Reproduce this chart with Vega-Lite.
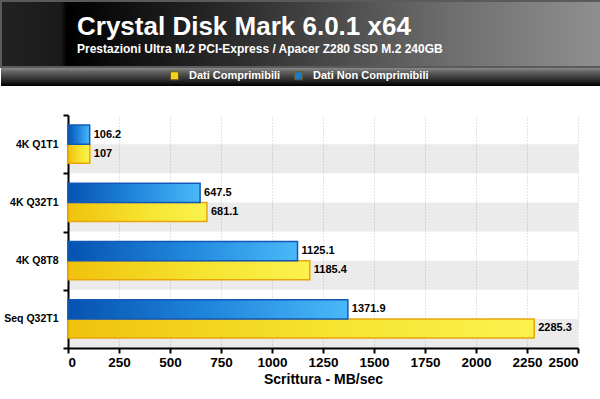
{
  "$schema": "https://vega.github.io/schema/vega-lite/v6.json",
  "padding": 0,
  "background": "white",
  "config": {
    "font": "Liberation Sans",
    "view": {"stroke": null}
  },
  "spacing": 0,
  "vconcat": [
    {
      "width": 600,
      "height": 66,
      "view": {
        "fill": {"gradient": "linear", "x1": 0, "y1": 0, "x2": 1, "y2": 0,
          "stops": [
            {"offset": 0, "color": "#222222"},
            {"offset": 0.1, "color": "#1a1a1a"},
            {"offset": 0.11, "color": "#000000"},
            {"offset": 0.4, "color": "#2e2e2e"},
            {"offset": 0.75, "color": "#6e6e6e"},
            {"offset": 1, "color": "#8f8f8f"}
          ]},
        "stroke": "#5a5a5a",
        "strokeWidth": 2
      },
      "title": {
        "text": "Crystal Disk Mark 6.0.1 x64",
        "subtitle": "Prestazioni Ultra M.2 PCI-Express / Apacer Z280 SSD M.2 240GB",
        "anchor": "start",
        "orient": "top",
        "offset": -54,
        "dx": 76,
        "color": "white",
        "subtitleColor": "white",
        "fontSize": 26,
        "fontWeight": "bold",
        "subtitleFontSize": 12,
        "subtitleFontWeight": "bold",
        "subtitlePadding": 4,
        "font": "Liberation Sans",
        "subtitleFont": "Liberation Sans"
      },
      "data": {"values": [{"d": 1}]},
      "mark": {"type": "point", "opacity": 0},
      "encoding": {}
    },
    {
      "width": 600,
      "height": 42,
      "view": {
        "fill": {"gradient": "linear", "x1": 0, "y1": 0, "x2": 0, "y2": 1,
          "stops": [
            {"offset": 0, "color": "#8a8a8a"},
            {"offset": 0.08, "color": "#666666"},
            {"offset": 0.3, "color": "#262626"},
            {"offset": 0.425, "color": "#000000"},
            {"offset": 0.43, "color": "#ffffff"},
            {"offset": 1, "color": "#ffffff"}
          ]},
        "stroke": null
      },
      "data": {"values": [{"d": 1}]},
      "mark": {"type": "point", "opacity": 0},
      "encoding": {}
    },
    {
      "width": 600,
      "height": 233,
      "data": {
        "values": [
          {"cat": "4K Q1T1", "series": "Dati Non Comprimibili", "value": 106.2},
          {"cat": "4K Q1T1", "series": "Dati Comprimibili", "value": 107},
          {"cat": "4K Q32T1", "series": "Dati Non Comprimibili", "value": 647.5},
          {"cat": "4K Q32T1", "series": "Dati Comprimibili", "value": 681.1},
          {"cat": "4K Q8T8", "series": "Dati Non Comprimibili", "value": 1125.1},
          {"cat": "4K Q8T8", "series": "Dati Comprimibili", "value": 1185.4},
          {"cat": "Seq Q32T1", "series": "Dati Non Comprimibili", "value": 1371.9},
          {"cat": "Seq Q32T1", "series": "Dati Comprimibili", "value": 2285.3}
        ]
      },
      "encoding": {
        "y": {
          "field": "cat",
          "type": "nominal",
          "sort": ["4K Q1T1", "4K Q32T1", "4K Q8T8", "Seq Q32T1"],
          "scale": {"paddingInner": 0, "paddingOuter": 0},
          "axis": {
            "title": null,
            "offset": -67,
            "tickBand": "extent",
            "domainColor": "black",
            "domainWidth": 2,
            "tickColor": "black",
            "tickWidth": 2,
            "tickSize": 5,
            "labelPadding": 5,
            "labelFontSize": 10.5,
            "labelFontWeight": "bold",
            "labelColor": "black"
          }
        }
      },
      "layer": [
        {
          "transform": [{"filter": "datum.series == 'Dati Comprimibili'"}],
          "mark": {"type": "bar", "fill": "black", "fillOpacity": 0.078, "stroke": null},
          "encoding": {
            "x": {"datum": 0, "type": "quantitative", "title": "Scrittura - MB/sec"},
            "x2": {"datum": 2500},
            "yOffset": {
              "field": "series",
              "type": "nominal",
              "scale": {"domain": ["Dati Non Comprimibili", "Dati Comprimibili"], "paddingInner": 0, "paddingOuter": 0}
            }
          }
        },
        {
          "layer": [
            {
              "transform": [{"filter": "datum.series == 'Dati Comprimibili'"}],
              "mark": {
                "type": "bar",
                "stroke": "#e9a50a",
                "strokeWidth": 1.5,
                "fill": {"gradient": "linear", "x1": 0, "y1": 0, "x2": 1, "y2": 0,
                  "stops": [{"offset": 0, "color": "#efc20c"}, {"offset": 0.6, "color": "#f6e633"}, {"offset": 1, "color": "#fbf24e"}]}
              },
              "encoding": {
                "x": {
                  "field": "value",
                  "type": "quantitative",
                  "title": "Scrittura - MB/sec",
                  "scale": {"domain": [0, 2500], "nice": false, "range": [67, 577]},
                  "axis": {
                    "values": [0, 250, 500, 750, 1000, 1250, 1500, 1750, 2000, 2250, 2500],
                    "format": "d",
                    "domainColor": "black",
                    "domainWidth": 2,
                    "tickColor": "black",
                    "tickWidth": 2,
                    "tickSize": 5,
                    "labelPadding": 2,
                    "labelFontSize": 13.5,
                    "labelFontWeight": "bold",
                    "labelColor": "black",
                    "titleFontSize": 14,
                    "titleFontWeight": "bold",
                    "titleColor": "black",
                    "titlePadding": 4,
                    "grid": true,
                    "gridColor": "#c8c8c8",
                    "gridDash": [1, 2],
                    "gridWidth": 1
                  }
                },
                "yOffset": {
                  "field": "series",
                  "type": "nominal",
                  "scale": {"domain": ["Dati Non Comprimibili", "Dati Comprimibili"], "paddingInner": 0, "paddingOuter": 0.53}
                }
              }
            },
            {
              "transform": [{"filter": "datum.series == 'Dati Non Comprimibili'"}],
              "mark": {
                "type": "bar",
                "stroke": "#1258b8",
                "strokeWidth": 1.5,
                "fill": {"gradient": "linear", "x1": 0, "y1": 0, "x2": 1, "y2": 0,
                  "stops": [{"offset": 0, "color": "#0652b0"}, {"offset": 0.5, "color": "#1f86dc"}, {"offset": 1, "color": "#4ab8f8"}]}
              },
              "encoding": {
                "x": {"field": "value", "type": "quantitative", "title": "Scrittura - MB/sec"},
                "yOffset": {"field": "series", "type": "nominal"}
              }
            },
            {
              "mark": {"type": "square", "opacity": 0},
              "encoding": {
                "x": {"field": "value", "type": "quantitative", "title": "Scrittura - MB/sec"},
                "yOffset": {"field": "series", "type": "nominal"},
                "color": {
                  "field": "series",
                  "type": "nominal",
                  "scale": {"domain": ["Dati Comprimibili", "Dati Non Comprimibili"], "range": ["#f2d21c", "#1a7ad4"]},
                  "legend": {
                    "orient": "none",
                    "legendX": 168,
                    "legendY": 69,
                    "direction": "horizontal",
                    "title": null,
                    "symbolType": "square",
                    "symbolSize": 64,
                    "symbolOpacity": 1,
                    "symbolStrokeColor": "#6a5a20",
                    "symbolStrokeWidth": 1,
                    "labelColor": "white",
                    "labelFontWeight": "bold",
                    "labelFontSize": 11,
                    "labelOffset": 9,
                    "columnPadding": 11,
                    "padding": 0
                  }
                }
              }
            },
            {
              "mark": {"type": "text", "align": "left", "baseline": "middle", "dx": 4, "fontSize": 11, "fontWeight": "bold", "color": "black"},
              "encoding": {
                "x": {"field": "value", "type": "quantitative", "title": "Scrittura - MB/sec"},
                "yOffset": {"field": "series", "type": "nominal"},
                "text": {"field": "value", "type": "nominal"}
              }
            }
          ]
        }
      ],
      "resolve": {"scale": {"yOffset": "independent"}}
    }
  ]
}
